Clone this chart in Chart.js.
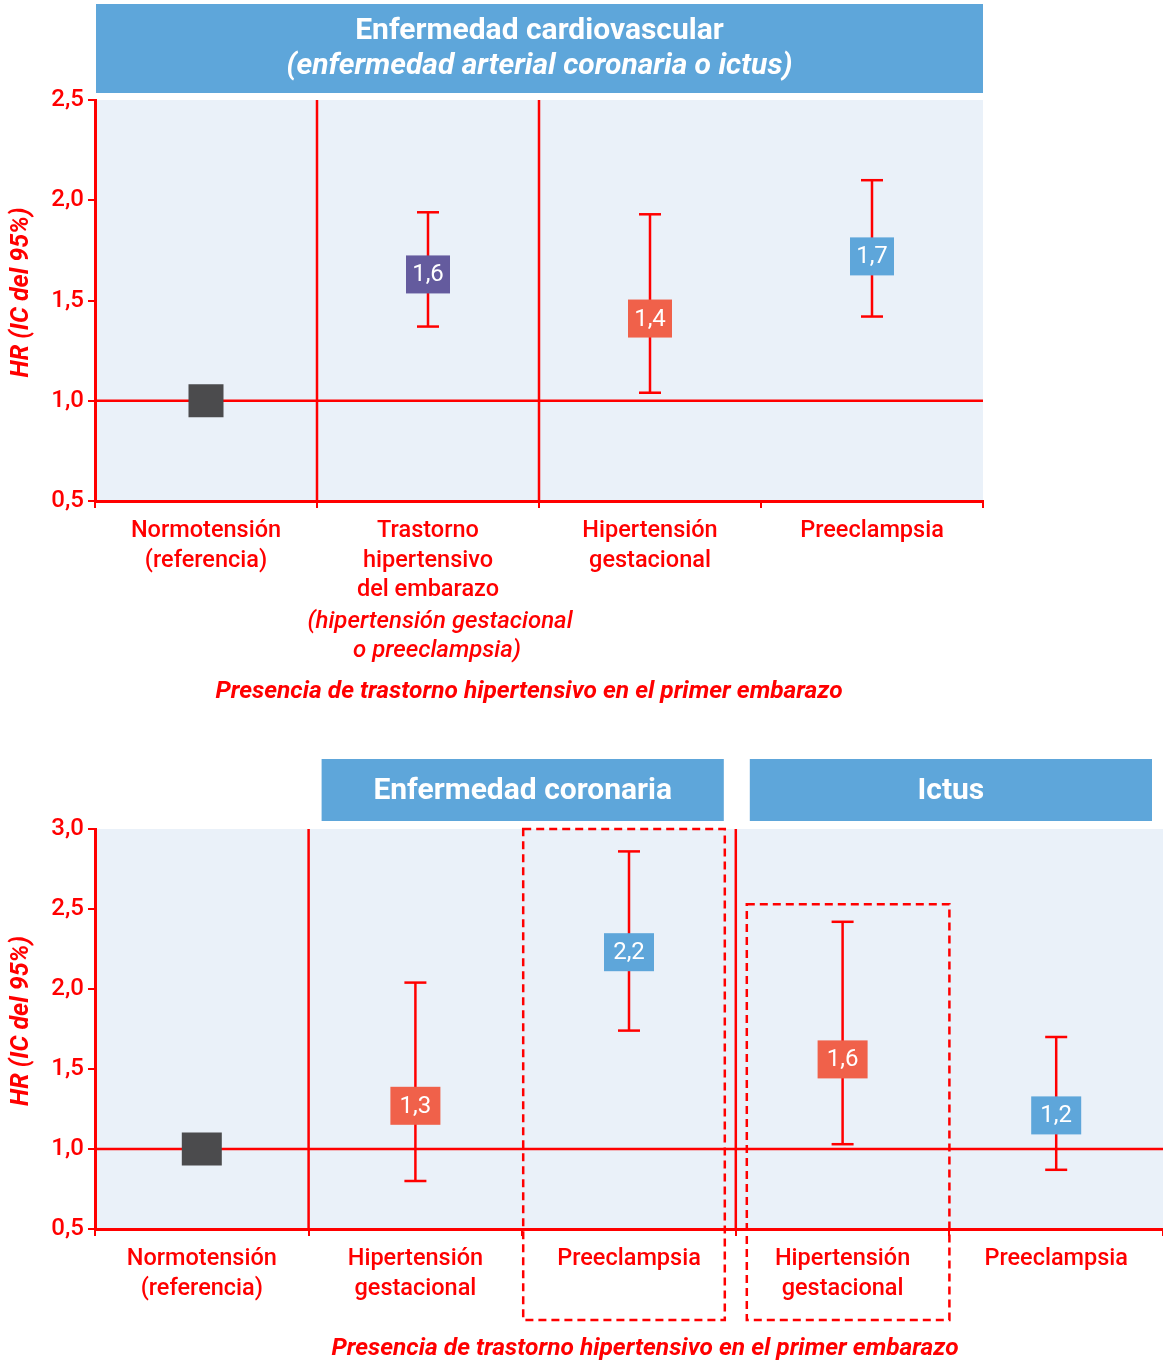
<!DOCTYPE html>
<html>
<head>
<meta charset="utf-8">
<script src="https://cdn.jsdelivr.net/npm/chart.js@4.4.1/dist/chart.umd.min.js"></script>
<style>
  html, body { margin: 0; padding: 0; background: #fff; }
  canvas { display: block; }
</style>
</head>
<body>
<canvas id="topChart" width="1163" height="710"></canvas>
<canvas id="bottomChart" width="1163" height="654"></canvas>
<script>
const FONT = 'Roboto, "Noto Sans", sans-serif';
const RED = '#ff0000';
const PLOT_BG = '#eaf1f9';
const HEADER_BLUE = '#5ea6da';

// top chart: cardiovascular disease
const topCategories = [
  ['Normotensión', '(referencia)'],
  ['Trastorno', 'hipertensivo', 'del embarazo'],
  ['Hipertensión', 'gestacional'],
  ['Preeclampsia']
];
const topHR = [1.0, 1.63, 1.41, 1.72];
const topLower = [null, 1.37, 1.04, 1.42];
const topUpper = [null, 1.94, 1.93, 2.10];
const topValueLabels = [null, '1,6', '1,4', '1,7'];
const topColors = ['#4b4b4d', '#645b9e', '#f0614a', '#5ea6da'];
const topYTicks = [0.5, 1.0, 1.5, 2.0, 2.5];

// bottom chart: coronary disease / stroke
const bottomCategories = [
  ['Normotensión', '(referencia)'],
  ['Hipertensión', 'gestacional'],
  ['Preeclampsia'],
  ['Hipertensión', 'gestacional'],
  ['Preeclampsia']
];
const bottomHR = [1.0, 1.27, 2.23, 1.56, 1.21];
const bottomLower = [null, 0.80, 1.74, 1.03, 0.87];
const bottomUpper = [null, 2.04, 2.86, 2.42, 1.70];
const bottomValueLabels = [null, '1,3', '2,2', '1,6', '1,2'];
const bottomColors = ['#4b4b4d', '#f0614a', '#5ea6da', '#f0614a', '#5ea6da'];
const bottomYTicks = [0.5, 1.0, 1.5, 2.0, 2.5, 3.0];

const xTitle = 'Presencia de trastorno hipertensivo en el primer embarazo';
const yTitle = 'HR (IC del 95%)';

function line(ctx, x1, y1, x2, y2) {
  ctx.beginPath();
  ctx.moveTo(x1, y1);
  ctx.lineTo(x2, y2);
  ctx.stroke();
}

function forestPlugin(o) {
  return {
    id: 'forest',
    beforeDraw(chart) {
      const { ctx, chartArea: a } = chart;
      const x = chart.scales.x;
      ctx.save();
      ctx.fillStyle = PLOT_BG;
      ctx.fillRect(a.left, a.top, a.right - a.left, a.bottom - a.top);
      // header bars
      o.headers.forEach(h => {
        const l = x.getPixelForValue(h.from) + h.insetL;
        const r = x.getPixelForValue(h.to) - h.insetR;
        ctx.fillStyle = HEADER_BLUE;
        ctx.fillRect(l, h.top, r - l, h.bottom - h.top);
        ctx.fillStyle = '#fff';
        ctx.textAlign = 'center';
        ctx.textBaseline = 'middle';
        h.lines.forEach(t => {
          ctx.font = (t.italic ? 'italic ' : '') + 'bold 30px ' + FONT;
          ctx.fillText(t.text, (l + r) / 2, t.y);
        });
      });
      ctx.restore();
    },
    afterDatasetsDraw(chart) {
      const { ctx, chartArea: a } = chart;
      const x = chart.scales.x, y = chart.scales.y;
      ctx.save();
      ctx.strokeStyle = RED;
      ctx.lineWidth = 2.5;
      o.dividers.forEach(d => {
        const px = x.getPixelForValue(d);
        line(ctx, px, a.top, px, a.bottom);
      });
      const y1 = y.getPixelForValue(1);
      line(ctx, a.left, y1, a.right, y1);

      ctx.setLineDash([8, 5]);
      o.dashedBoxes.forEach(b => {
        const l = x.getPixelForValue(b.from) + b.insetL;
        const r = x.getPixelForValue(b.to) - b.insetR;
        const t = b.topValue == null ? a.top : y.getPixelForValue(b.topValue);
        const btm = a.bottom + b.below;
        ctx.strokeRect(l, t, r - l, btm - t);
      });
      ctx.setLineDash([]);

      // error bars
      o.hr.forEach((v, i) => {
        if (o.lower[i] == null) return;
        const px = x.getPixelForValue(i);
        const lo = y.getPixelForValue(o.lower[i]);
        const hi = y.getPixelForValue(o.upper[i]);
        line(ctx, px, lo, px, hi);
        line(ctx, px - 11, lo, px + 11, lo);
        line(ctx, px - 11, hi, px + 11, hi);
      });

      // markers: reference square and value boxes
      ctx.textAlign = 'center';
      ctx.textBaseline = 'middle';
      o.hr.forEach((v, i) => {
        const px = x.getPixelForValue(i);
        const py = y.getPixelForValue(v);
        ctx.fillStyle = o.colors[i];
        if (o.valueLabels[i] == null) {
          ctx.fillRect(px - o.square[0] / 2, py - o.square[1] / 2, o.square[0], o.square[1]);
        } else {
          ctx.fillRect(px - o.box[0] / 2, py - o.box[1] / 2, o.box[0], o.box[1]);
          ctx.fillStyle = '#fff';
          ctx.font = '24px ' + FONT;
          ctx.fillText(o.valueLabels[i], px, py + 1);
        }
      });

      // extra italic lines under a category label
      ctx.fillStyle = RED;
      o.notes.forEach(n => {
        ctx.font = 'italic 500 24px ' + FONT;
        ctx.fillText(n.text, x.getPixelForValue(n.at) + n.dx, a.bottom + n.dy);
      });

      // axis titles
      ctx.font = 'italic bold 24.5px ' + FONT;
      ctx.fillText(xTitle, (a.left + a.right) / 2 + o.xTitleDx, a.bottom + o.xTitleDy);
      ctx.translate(22, (a.top + a.bottom) / 2 - 8);
      ctx.rotate(-Math.PI / 2);
      ctx.font = 'italic bold 25px ' + FONT;
      ctx.fillText(yTitle, 0, 0);
      ctx.restore();
    }
  };
}

function makeChart(id, categories, hr, yTicks, xAxisHeight, rightPad, topPad, plugin) {
  return new Chart(document.getElementById(id), {
    type: 'line',
    data: {
      labels: categories,
      datasets: [{ data: hr, showLine: false, pointRadius: 0, pointHoverRadius: 0 }]
    },
    options: {
      responsive: false,
      animation: false,
      events: [],
      layout: { padding: { top: topPad, right: rightPad, left: 0, bottom: 0 } },
      plugins: { legend: { display: false }, tooltip: { enabled: false } },
      scales: {
        x: {
          type: 'category',
          offset: true,
          afterFit: s => { s.height = xAxisHeight; },
          grid: { offset: true, drawOnChartArea: false, drawTicks: true, tickLength: 7, color: RED, lineWidth: 2 },
          border: { display: true, color: RED, width: 3 },
          ticks: {
            color: RED, autoSkip: false, maxRotation: 0, padding: 9,
            font: { family: FONT, size: 23.5, weight: 500, lineHeight: 1.24 }
          }
        },
        y: {
          min: yTicks[0],
          max: yTicks[yTicks.length - 1],
          afterFit: s => { s.width = 95; },
          afterBuildTicks: s => { s.ticks = yTicks.map(v => ({ value: v })); },
          grid: { drawOnChartArea: false, drawTicks: true, tickLength: 7, color: RED, lineWidth: 2 },
          border: { display: true, color: RED, width: 3 },
          ticks: {
            color: RED, padding: 4,
            font: { family: FONT, size: 24, weight: 500 },
            callback: v => Number(v).toFixed(1).replace('.', ',')
          }
        }
      }
    },
    plugins: [plugin]
  });
}

makeChart('topChart', topCategories, topHR, topYTicks, 209, 180, 100, forestPlugin({
  hr: topHR, lower: topLower, upper: topUpper, valueLabels: topValueLabels, colors: topColors,
  square: [35, 33], box: [44, 38],
  dividers: [0.5, 1.5],
  dashedBoxes: [],
  headers: [{
    from: -0.5, to: 3.5, insetL: 1, insetR: 0, top: 4, bottom: 93,
    lines: [
      { text: 'Enfermedad cardiovascular', italic: false, y: 31 },
      { text: '(enfermedad arterial coronaria o ictus)', italic: true, y: 66 }
    ]
  }],
  notes: [
    { text: '(hipertensión gestacional', at: 1, dx: 12, dy: 121 },
    { text: 'o preeclampsia)', at: 1, dx: 9, dy: 150 }
  ],
  xTitleDx: -10, xTitleDy: 191
}));

makeChart('bottomChart', bottomCategories, bottomHR, bottomYTicks, 135, 0, 119, forestPlugin({
  hr: bottomHR, lower: bottomLower, upper: bottomUpper, valueLabels: bottomValueLabels, colors: bottomColors,
  square: [40, 33], box: [50, 38],
  dividers: [0.5, 2.5],
  dashedBoxes: [
    { from: 1.5, to: 2.5, insetL: 1, insetR: 11, topValue: null, below: 91 },
    { from: 2.5, to: 3.5, insetL: 11, insetR: 0, topValue: 2.53, below: 91 }
  ],
  headers: [
    { from: 0.5, to: 2.5, insetL: 13, insetR: 12, top: 49, bottom: 111,
      lines: [{ text: 'Enfermedad coronaria', italic: false, y: 81 }] },
    { from: 2.5, to: 4.5, insetL: 14, insetR: 11, top: 49, bottom: 111,
      lines: [{ text: 'Ictus', italic: false, y: 81 }] }
  ],
  notes: [],
  xTitleDx: 16, xTitleDy: 120
}));
</script>
</body>
</html>
